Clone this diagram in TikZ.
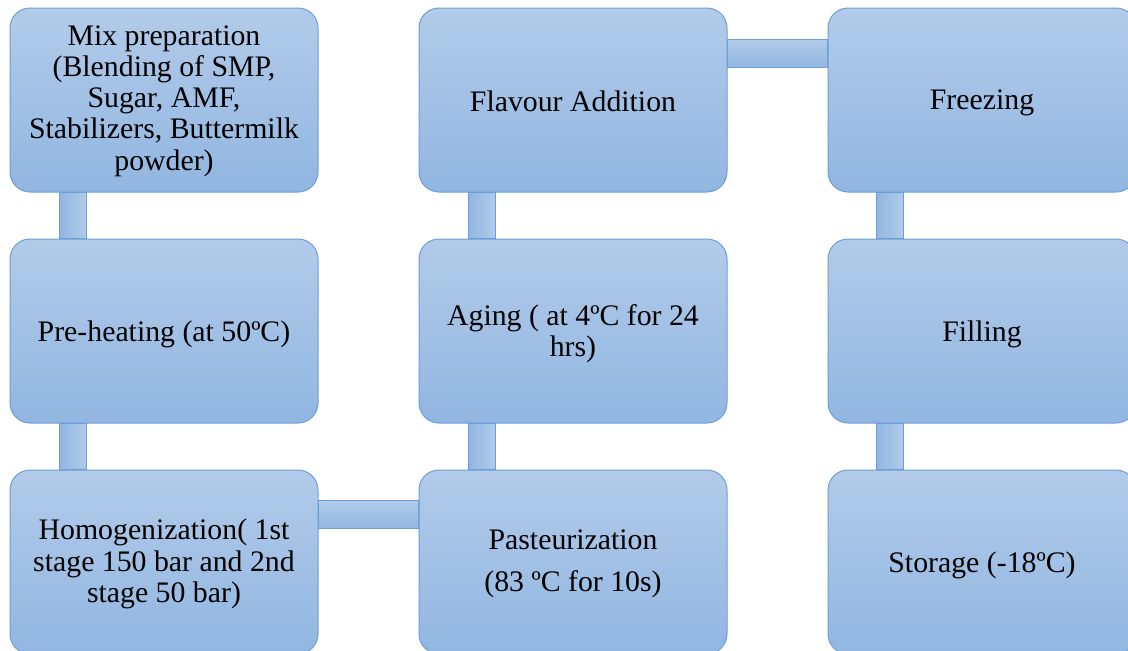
\documentclass[tikz,border=0pt]{standalone}
\usepackage{fontspec}
\setmainfont{Liberation Serif}
\usetikzlibrary{calc}
\definecolor{bxtop}{HTML}{B2CBE9}
\definecolor{bxbot}{HTML}{91B6E1}
\definecolor{bxline}{HTML}{6A9FD9}
\tikzset{
  stepbox/.style={draw=bxline, line width=1pt, rounded corners=20pt,
    top color=bxtop, bottom color=bxbot, minimum width=308pt, minimum height=184pt,
    inner sep=0pt},
  steptext/.style={align=center, inner sep=0pt, font=\fontsize{29.8}{31.2}\selectfont, text=black},
  bar/.style={draw=bxline, line width=1pt, left color=bxbot, right color=bxtop},
  hbar/.style={draw=bxline, line width=1pt, top color=bxtop, bottom color=bxbot}
}
\begin{document}
\begin{tikzpicture}[x=1pt,y=-1pt]
\useasboundingbox (0,0) rectangle (1128,651);
\node[stepbox] (mix) at (164,100) {};
\node[stepbox] (pre) at (164,331) {};
\node[stepbox] (hom) at (164,562) {};
\node[stepbox] (pas) at (573,562) {};
\node[stepbox] (age) at (573,331) {};
\node[stepbox] (fla) at (573,100) {};
\node[stepbox] (fre) at (982,100) {};
\node[stepbox] (fil) at (982,331) {};
\node[stepbox] (sto) at (982,562) {};
% texts
\node[steptext] (tmix) at ($(mix.center)+(0,1)$) {Mix preparation\\(Blending of SMP,\\Sugar, AMF,\\Stabilizers, Buttermilk\\powder)};
\node[steptext] (tpre) at ($(pre.center)+(0,3)$) {Pre-heating (at 50ºC)};
\node[steptext] (thom) at ($(hom.center)+(0,2)$) {Homogenization( 1st\\stage 150 bar and 2nd\\stage 50 bar)};
\node[steptext] (tpas) at ($(pas.center)+(0,2)$) {Pasteurization\\[11pt](83 ºC for 10s)};
\node[steptext] (tage) at ($(age.center)+(0,3)$) {Aging ( at 4ºC for 24\\hrs)};
\node[steptext] (tfla) at ($(fla.center)+(0,1)$) {Flavour Addition};
\node[steptext] (tfre) at ($(fre.center)+(0,3)$) {Freezing};
\node[steptext] (tfil) at ($(fil.center)+(0,3)$) {Filling};
\node[steptext] (tsto) at ($(sto.center)+(0,3)$) {Storage (-18ºC)};
% connectors
\path[bar] ($(mix.south west)+(50,0)$) rectangle ($(pre.north west)+(77,0)$);
\path[bar] ($(pre.south west)+(50,0)$) rectangle ($(hom.north west)+(77,0)$);
\path[bar] ($(fla.south west)+(50,0)$) rectangle ($(age.north west)+(77,0)$);
\path[bar] ($(age.south west)+(50,0)$) rectangle ($(pas.north west)+(77,0)$);
\path[bar] ($(fre.south west)+(49,0)$) rectangle ($(fil.north west)+(76,0)$);
\path[bar] ($(fil.south west)+(49,0)$) rectangle ($(sto.north west)+(76,0)$);
\path[hbar] ($(hom.north east)+(0,31)$) rectangle ($(pas.north west)+(0,59)$);
\path[hbar] ($(fla.north east)+(0,32)$) rectangle ($(fre.north west)+(0,60)$);
\end{tikzpicture}
\end{document}
